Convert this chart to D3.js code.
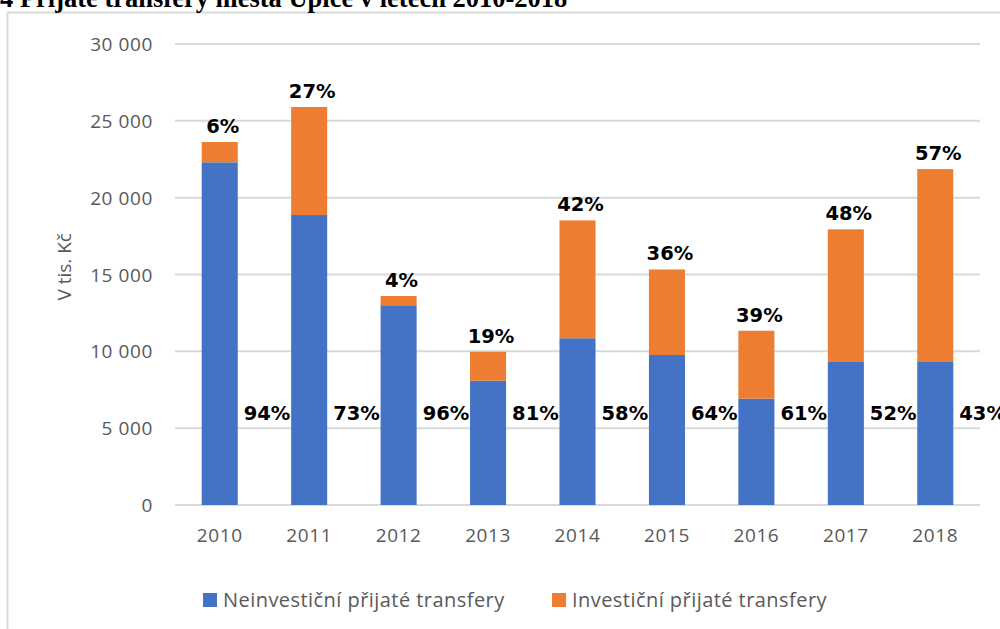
<!DOCTYPE html>
<html>
<head>
<meta charset="utf-8">
<script src="https://cdn.jsdelivr.net/npm/d3@7"></script>
<style>
  html, body { margin: 0; padding: 0; background: #fff; }
  svg { display: block; }
</style>
</head>
<body>
<svg id="chart" width="1000" height="629"></svg>
<script>
// ---- data ----
const years = ["2010","2011","2012","2013","2014","2015","2016","2017","2018"];
const neinvesticni = [22300, 18870, 13000, 8090, 10850, 9760, 6920, 9350, 9350];
const investicni   = [1320, 7030, 600, 1880, 7670, 5570, 4420, 8590, 12510];
const pctNeinv = ["94%","73%","96%","81%","58%","64%","61%","52%","43%"];
const pctInv   = ["6%","27%","4%","19%","42%","36%","39%","48%","57%"];
const yTicks = [0, 5000, 10000, 15000, 20000, 25000, 30000];
const seriesNames = ["Neinvestiční přijaté transfery", "Investiční přijaté transfery"];
const colors = ["#4472C4", "#ED7D31"];
const titleText = "4 Přijaté transfery města Úpice v letech 2010-2018";
const yTitle = "V tis. Kč";

const svg = d3.select("#chart");

// frame
svg.append("rect").attr("x", 7.5).attr("y", 12.5).attr("width", 1000).attr("height", 700)
  .attr("fill", "none").attr("stroke", "#d9d9d9").attr("stroke-width", 2);

// title (cut off at top)
const title = svg.append("text").attr("x", 0).attr("y", 7)
  .attr("font-family", "Liberation Serif").attr("font-weight", "bold")
  .attr("font-size", 26.5).attr("fill", "#000").text(titleText);

const x = d3.scaleBand().domain(years).range([175, 980]).paddingInner(0.597).paddingOuter(0.2985);
const y = d3.scaleLinear().domain([0, 30000]).range([505, 44]);

// gridlines
svg.append("g").selectAll("line").data(yTicks).join("line")
  .attr("x1", 175).attr("x2", 980)
  .attr("y1", d => y(d)).attr("y2", d => y(d))
  .attr("stroke", "#d9d9d9").attr("stroke-width", 2);

// y axis labels
const fmt = d => d === 0 ? "0" : d3.format(",")(d).replace(/,/g, " ");
const yAxis = d3.axisLeft(y).tickValues(yTicks).tickFormat(fmt).tickSize(0).tickPadding(0);
const yg = svg.append("g").attr("transform", "translate(153,0)").call(yAxis);
yg.select(".domain").remove();
yg.selectAll("text").attr("font-family", "Open Sans").attr("font-size", 19)
  .attr("fill", "#595959").attr("letter-spacing", "0.6px").attr("dy", "0.35em");

// x axis labels
const xAxis = d3.axisBottom(x).tickSize(0).tickPadding(0);
const xg = svg.append("g").attr("transform", "translate(0,528)").call(xAxis);
xg.select(".domain").remove();
xg.selectAll("text").attr("font-family", "Open Sans").attr("font-size", 19)
  .attr("fill", "#595959").attr("letter-spacing", "0.6px").attr("dy", "0.71em");

// y title
svg.append("text").attr("transform", `translate(71,${y(15500)}) rotate(-90)`)
  .attr("text-anchor", "middle").attr("font-family", "Open Sans").attr("font-size", 19)
  .attr("fill", "#595959").text(yTitle);

// stacked bars
const rows = years.map((yr, i) => ({ year: yr, a: neinvesticni[i], b: investicni[i], pa: pctNeinv[i], pb: pctInv[i] }));
const g = svg.append("g");
g.selectAll("rect.a").data(rows).join("rect").attr("class", "a")
  .attr("x", d => x(d.year)).attr("width", x.bandwidth())
  .attr("y", d => y(d.a)).attr("height", d => y(0) - y(d.a))
  .attr("fill", colors[0]);
g.selectAll("rect.b").data(rows).join("rect").attr("class", "b")
  .attr("x", d => x(d.year)).attr("width", x.bandwidth())
  .attr("y", d => y(d.a + d.b)).attr("height", d => y(d.a) - y(d.a + d.b))
  .attr("fill", colors[1]);

// labels
const lblFont = { family: "DejaVu Sans", size: 19.5 };
g.selectAll("text.pa").data(rows).join("text").attr("class", "pa")
  .attr("x", d => x(d.year) + x.bandwidth() + 6).attr("y", 420)
  .attr("font-family", lblFont.family).attr("font-weight", "bold").attr("font-size", lblFont.size)
  .attr("fill", "#000").text(d => d.pa);
g.selectAll("text.pb").data(rows).join("text").attr("class", "pb")
  .attr("x", d => x(d.year) + x.bandwidth() / 2 + 3).attr("y", d => y(d.a + d.b) - 9)
  .attr("text-anchor", "middle")
  .attr("font-family", lblFont.family).attr("font-weight", "bold").attr("font-size", lblFont.size)
  .attr("fill", "#000").text(d => d.pb);

// legend
const legX = [203, 552];
const lg = svg.append("g");
seriesNames.forEach((name, i) => {
  lg.append("rect").attr("x", legX[i]).attr("y", 593).attr("width", 14).attr("height", 14).attr("fill", colors[i]);
  lg.append("text").attr("x", legX[i] + 20).attr("y", 607)
    .attr("font-family", "Open Sans").attr("font-size", 20).attr("fill", "#595959")
    .attr("letter-spacing", "0.45px").text(name);
});
</script>
</body>
</html>
